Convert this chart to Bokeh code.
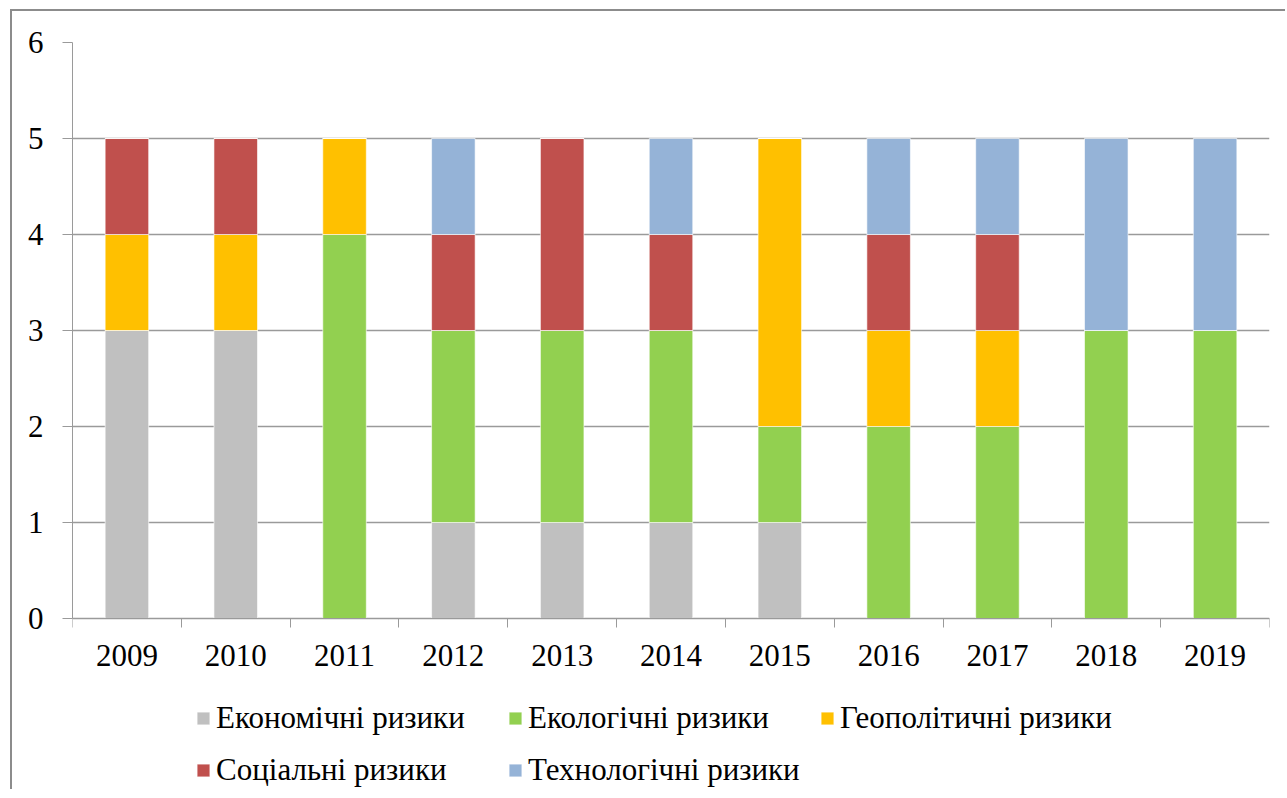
from bokeh.plotting import figure
from bokeh.models import ColumnDataSource, FixedTicker, Legend, LegendItem
from bokeh.embed import file_html
from bokeh.resources import INLINE

years = [2009, 2010, 2011, 2012, 2013, 2014, 2015, 2016, 2017, 2018, 2019]
economic = [3, 3, 0, 1, 1, 1, 1, 0, 0, 0, 0]
ecological = [0, 0, 4, 2, 2, 2, 1, 2, 2, 3, 3]
geopolitical = [1, 1, 1, 0, 0, 0, 3, 1, 1, 0, 0]
social = [1, 1, 0, 1, 2, 1, 0, 1, 1, 0, 0]
technological = [0, 0, 0, 1, 0, 1, 0, 1, 1, 2, 2]

series_keys = ["economic", "ecological", "geopolitical", "social", "technological"]
series_labels = ["Економічні ризики", "Екологічні ризики", "Геополітичні ризики",
                 "Соціальні ризики", "Технологічні ризики"]
series_colors = ["#C0C0C0", "#92D050", "#FFC000", "#C0504D", "#95B3D7"]
y_ticks = [0, 1, 2, 3, 4, 5, 6]

source = ColumnDataSource(dict(year=years, economic=economic, ecological=ecological,
                               geopolitical=geopolitical, social=social,
                               technological=technological))

FONT = "Liberation Serif"
GRID = "#9a9a9a"

# frame: 749 px tall, 96 px per unit -> the space under 0 holds the axis labels and legend
p = figure(width=1275, height=780, output_backend="svg", toolbar_location=None,
           x_range=(years[0] - 0.5, years[-1] + 0.5), y_range=(-1.802, 6),
           min_border_left=60, min_border_right=18, min_border_top=31, min_border_bottom=0)
p.styles = {"margin-left": "10px", "margin-top": "9px",
            "border-left": "2px solid #8c8c8c", "border-top": "2px solid #8c8c8c"}
p.outline_line_color = None
p.background_fill_color = "white"
p.border_fill_color = "white"

renderers = p.vbar_stack(series_keys, x="year", width=0.4, source=source,
                         fill_color=series_colors, line_color="white", line_alpha=0.6,
                         line_width=1)

# x axis drawn at y = 0
boundaries = [y - 0.5 for y in years] + [years[-1] + 0.5]
p.xaxis.fixed_location = 0
p.xaxis.ticker = FixedTicker(ticks=years, minor_ticks=boundaries)
p.xaxis.major_tick_out = 0
p.xaxis.major_tick_in = 0
p.xaxis.minor_tick_out = 9
p.xaxis.minor_tick_in = 0
p.xaxis.minor_tick_line_color = GRID
p.xaxis.axis_line_color = GRID
p.xaxis.major_label_text_font = FONT
p.xaxis.major_label_text_font_size = "31px"
p.xaxis.major_label_text_color = "black"
p.xaxis.major_label_standoff = 17

p.yaxis.ticker = FixedTicker(ticks=y_ticks)
p.yaxis.bounds = (0, 6)
p.yaxis.major_tick_out = 10
p.yaxis.major_tick_in = 0
p.yaxis.minor_tick_line_color = None
p.yaxis.major_tick_line_color = GRID
p.yaxis.axis_line_color = GRID
p.yaxis.major_label_text_font = FONT
p.yaxis.major_label_text_font_size = "31px"
p.yaxis.major_label_text_color = "black"
p.yaxis.major_label_standoff = 19

p.xgrid.grid_line_color = None
p.ygrid.grid_line_color = GRID
p.ygrid.grid_line_width = 1.5

# the legend grid is filled column by column: order items so rows read left to right
legend_order = [0, 3, 1, 4, 2]
items = [LegendItem(label=series_labels[i], renderers=[renderers[i]]) for i in legend_order]
legend = Legend(items=items, ncols=3, location=(123, 3))
legend.label_text_font = FONT
legend.label_text_font_size = "31px"
legend.label_text_color = "black"
legend.glyph_width = 16
legend.glyph_height = 16
legend.label_standoff = 5
legend.label_height = 36
legend.label_width = 275
legend.spacing = 16
legend.padding = 0
legend.margin = 0
legend.border_line_color = None
legend.background_fill_alpha = 0
p.add_layout(legend, "center")

open("out.html", "w").write(file_html(p, INLINE))
